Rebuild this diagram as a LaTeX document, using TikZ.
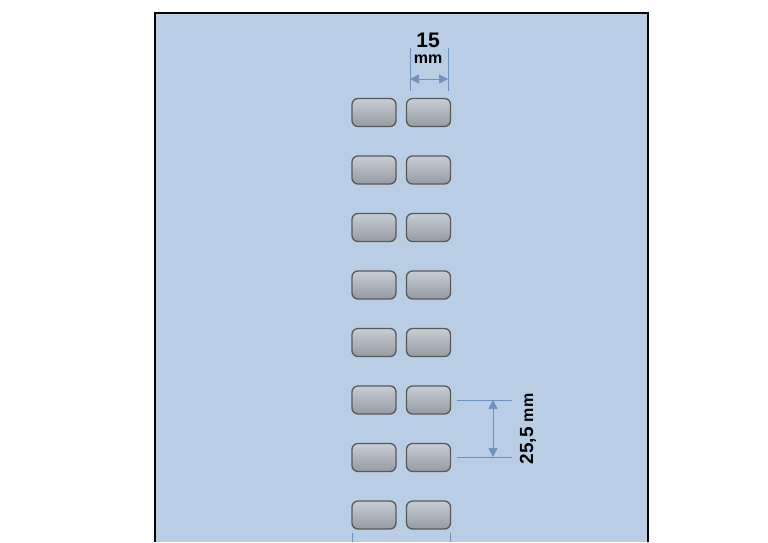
\documentclass[tikz,border=0pt]{standalone}
\usepackage{fontspec}
\setmainfont{Liberation Sans}
\usetikzlibrary{arrows.meta}
\definecolor{dimc}{RGB}{110,145,190}
\begin{document}
\begin{tikzpicture}[x=1pt,y=-1pt,
  btn/.style={draw=black!65,line width=1.3pt,rounded corners=6pt,minimum width=44pt,minimum height=28pt,inner sep=0pt,top color={rgb,255:red,200;green,205;blue,212},bottom color={rgb,255:red,150;green,155;blue,162}},
  dim/.style={draw=dimc,line width=0.7pt},
  arr/.style={dim,{Triangle[length=9pt,width=9pt]}-{Triangle[length=9pt,width=9pt]},fill=dimc}]
\useasboundingbox (0,0) rectangle (768,542);
\fill[white] (0,0) rectangle (768,542);
\fill[fill={rgb,255:red,185;green,205;blue,229}] (155,13) rectangle (648,542);
\draw[line width=1.2pt] (155,542) -- (155,13) -- (648,13) -- (648,542);
\foreach \i in {0,...,7}{
  \node[btn] (l\i) at (374,{112.5+57.5*\i}) {};
  \node[btn] (r\i) at (428.5,{112.5+57.5*\i}) {};
}
% 15 mm
\coordinate (a1) at (410,48); \coordinate (a2) at (410,91);
\coordinate (b1) at (448,48); \coordinate (b2) at (448,91);
\draw[dim] (a1) -- (a2); \draw[dim] (b1) -- (b2);
\draw[arr] (410,79) -- (448,79);
\node[font=\bfseries\fontsize{21}{21}\selectfont,inner sep=0pt] (t15) at (428,40) {15};
\node[font=\bfseries\fontsize{16}{16}\selectfont,inner sep=0pt] (tmm) at (428,59) {mm};
% 25,5 mm
\coordinate (e1) at (457,400); \coordinate (e2) at (512,400);
\coordinate (f1) at (457,457); \coordinate (f2) at (512,457);
\draw[dim] (e1) -- (e2); \draw[dim] (f1) -- (f2);
\draw[arr] (493,400) -- (493,457);
\node[font=\bfseries\fontsize{19}{19}\selectfont,rotate=90,inner sep=0pt] (t25) at (528,429) {25,5 {\fontsize{16}{16}\selectfont mm}};
% bottom partial lines
\coordinate (g1) at (352,533); \coordinate (g2) at (352,542);
\coordinate (h1) at (450,533); \coordinate (h2) at (450,542);
\draw[dim] (g1) -- (g2); \draw[dim] (h1) -- (h2);
\end{tikzpicture}
\end{document}
